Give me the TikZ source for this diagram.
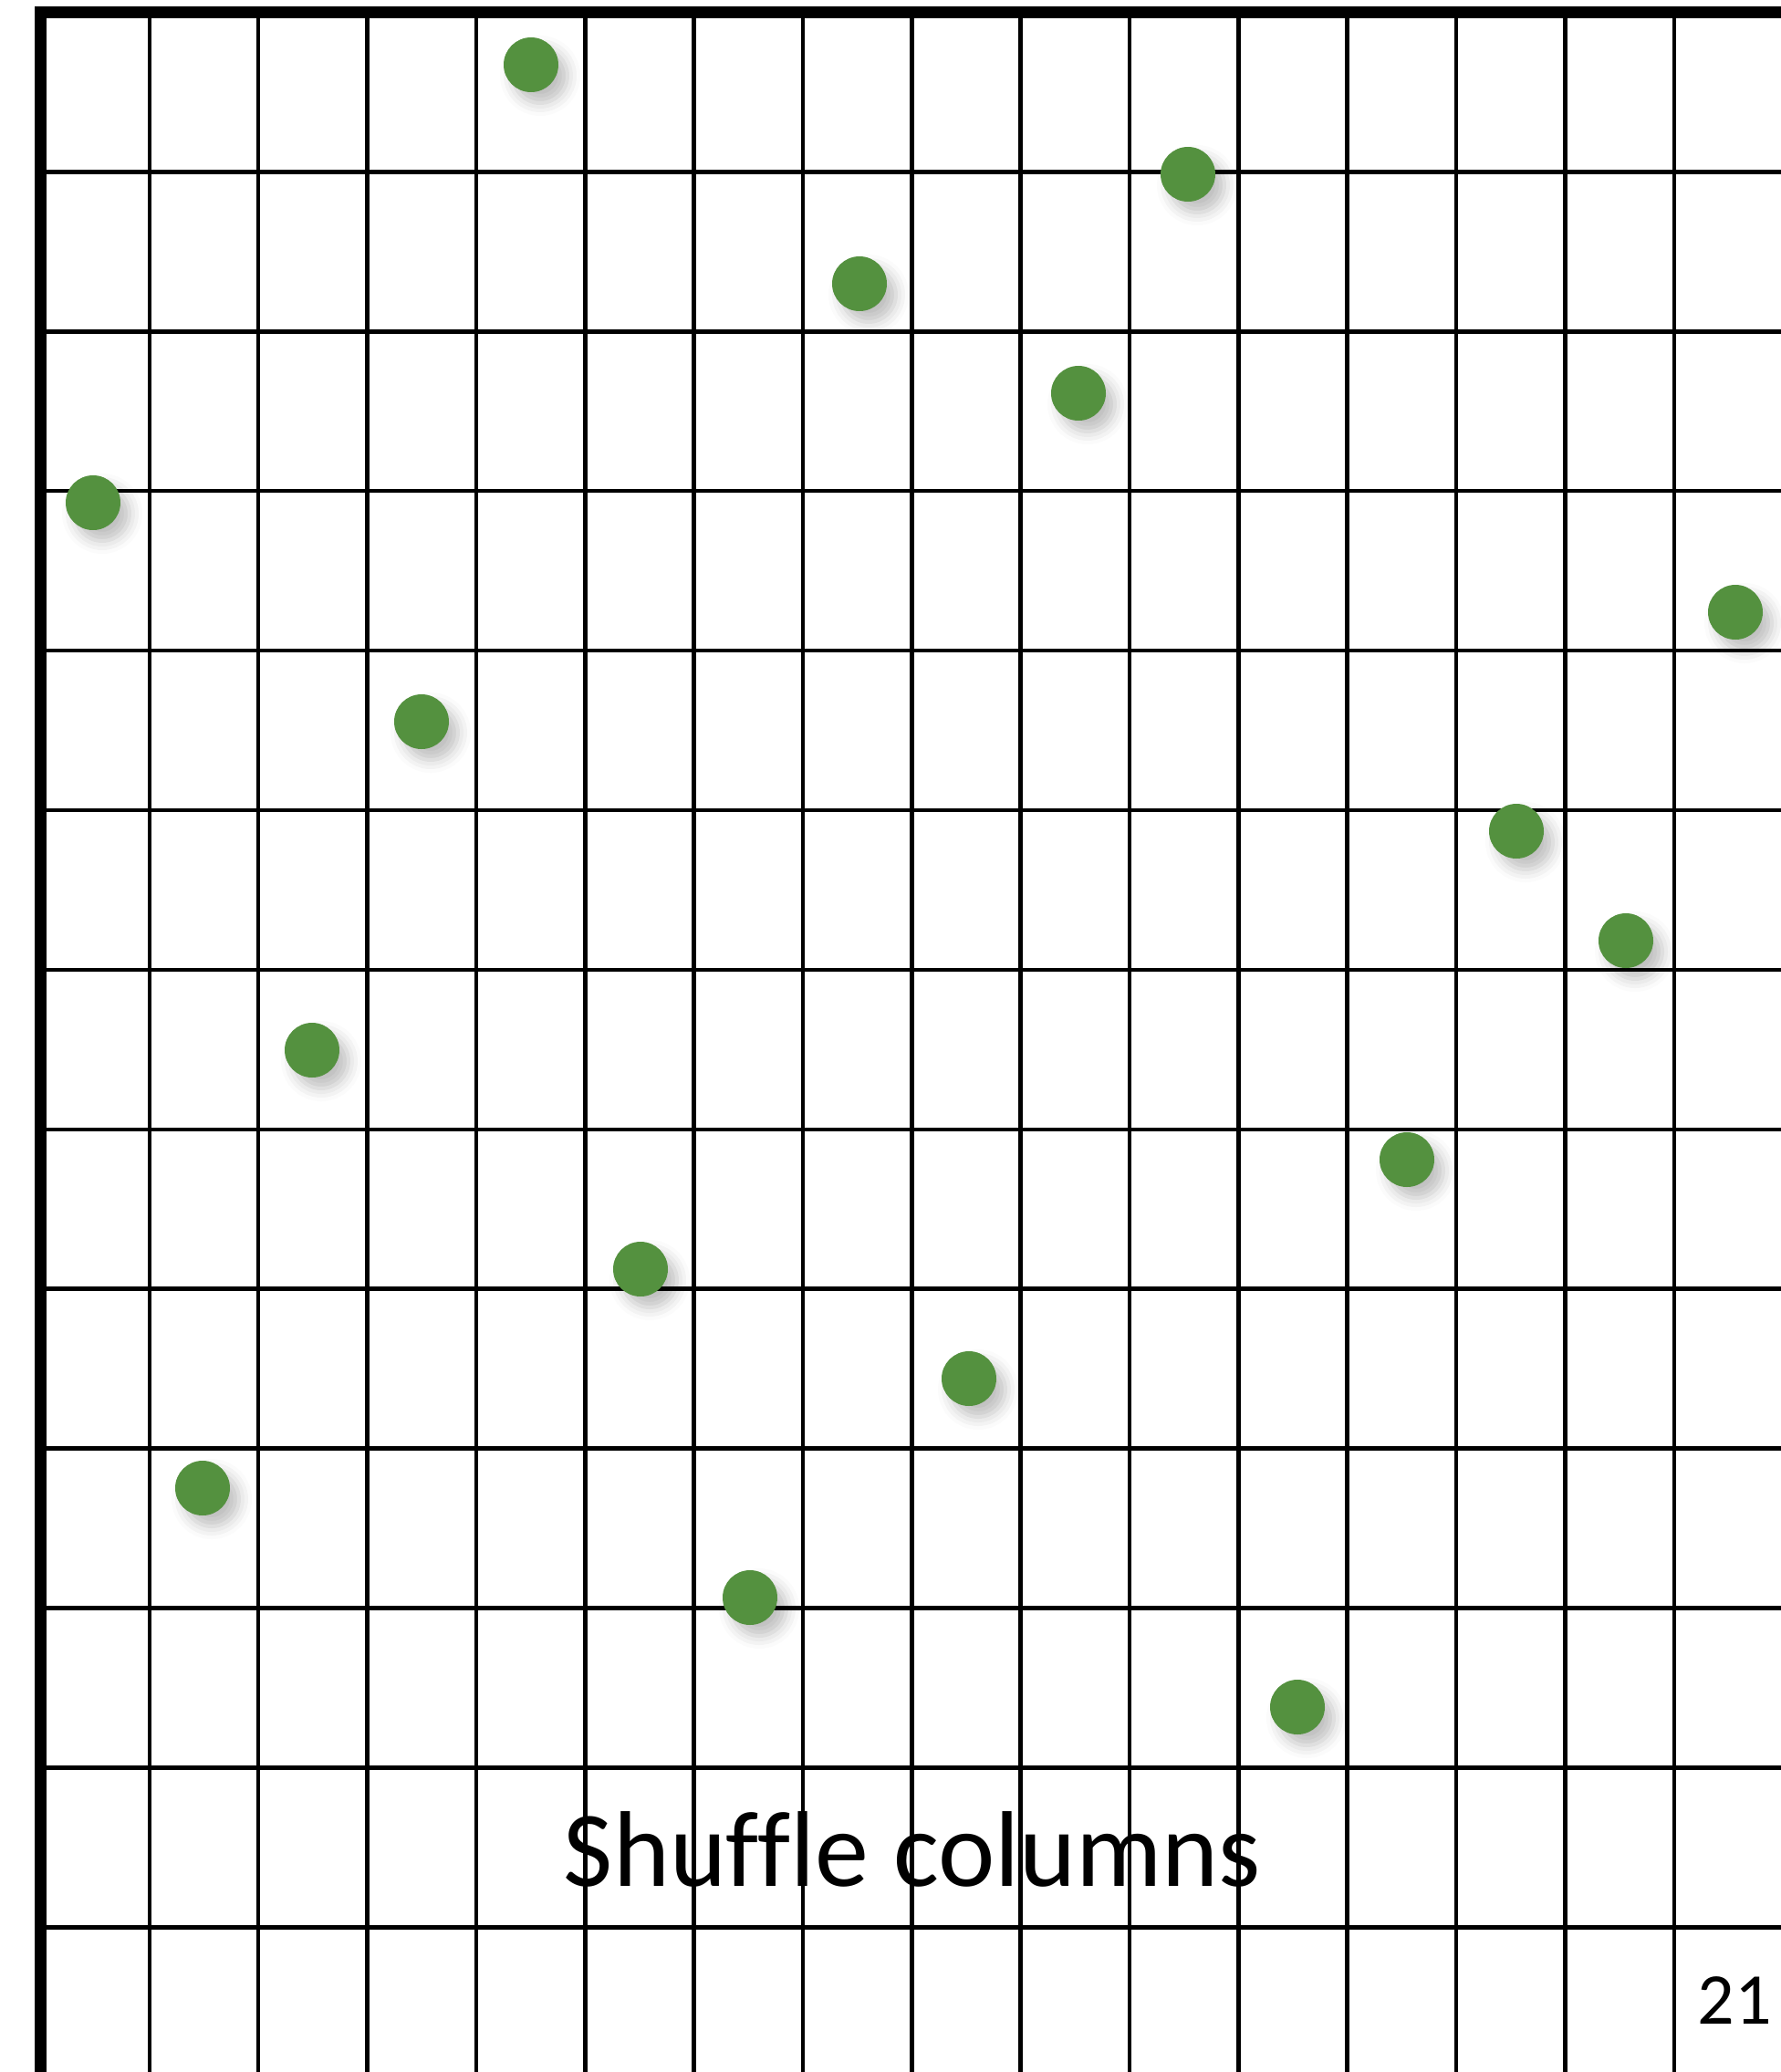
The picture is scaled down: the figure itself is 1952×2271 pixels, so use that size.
\documentclass[tikz,border=0pt]{standalone}
\usepackage{fontspec}
\setmainfont{Carlito}[Ligatures=NoCommon]
\usetikzlibrary{shadows.blur}
\definecolor{dotgreen}{HTML}{54913F}
\tikzset{
  gridline/.style={draw=black,line width=2.25pt},
  borderline/.style={draw=black,line width=6.5pt,line join=miter},
  dot/.style={circle,fill=dotgreen,minimum size=30pt,inner sep=0pt,
    blur shadow={shadow xshift=5pt,shadow yshift=-6pt,shadow blur radius=7pt,shadow opacity=25}},
}

\begin{document}
\begin{tikzpicture}[x=0.5pt,y=-0.5pt]
  \useasboundingbox (0,0) rectangle (1952,2271);
  % grid
  \foreach \i in {1,...,15}
    \draw[gridline] (44.5+119.35*\i,13.5) -- (44.5+119.35*\i,2271);
  \foreach \j in {1,...,12}
    \draw[gridline] (44.5,13.5+174.9*\j) -- (1952,13.5+174.9*\j);
  \draw[borderline] (44.5,2271) -- (44.5,13.5) -- (1952,13.5);

  % one dot per row, columns shuffled
  \foreach \col [count=\row from 0] in {4,10,7,9,0,15,3,13,14,2,12,5,8,1,6,11}
    \node[dot] (dot\row) at (102+120*\col,71+120*\row) {};

  \node[font=\fontsize{59}{61}\selectfont,anchor=base] (title) at (1000,2067) {Shuffle columns};
  \node[font=\fontsize{40}{42}\selectfont,anchor=base east,inner sep=0pt] (pagenum) at (1942,2218) {21};
\end{tikzpicture}
\end{document}
